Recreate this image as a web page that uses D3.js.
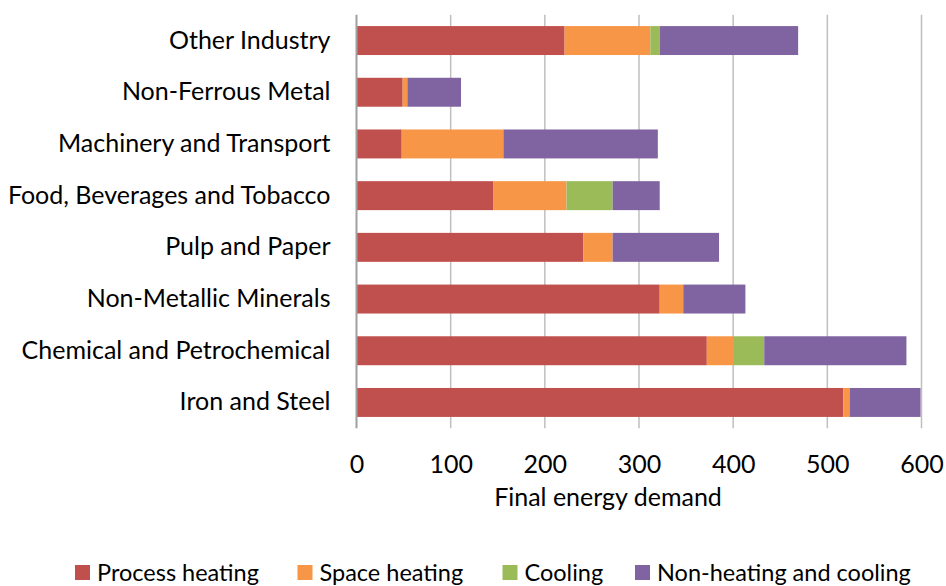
<!DOCTYPE html>
<html>
<head>
<meta charset="utf-8">
<script src="https://cdn.jsdelivr.net/npm/d3@7"></script>
<style>
  html, body { margin: 0; padding: 0; background: #fff; }
  svg { display: block; }
  text { font-family: Lato, "Open Sans", sans-serif; fill: #000; }
</style>
</head>
<body>
<svg id="chart" width="946" height="586"></svg>
<script>
const categories = ["Other Industry", "Non-Ferrous Metal", "Machinery and Transport",
  "Food, Beverages and Tobacco", "Pulp and Paper", "Non-Metallic Minerals",
  "Chemical and Petrochemical", "Iron and Steel"];
const seriesNames = ["Process heating", "Space heating", "Cooling", "Non-heating and cooling"];
const processHeating = [221, 49, 48, 145, 241, 322, 372, 517];
const spaceHeating   = [91, 5, 108, 78, 31, 25, 28, 7];
const cooling        = [10, 0, 0, 49, 0, 0, 33, 0];
const nonHeating     = [147, 57, 164, 50, 113, 66, 151, 75];
const xTicks = [0, 100, 200, 300, 400, 500, 600];
const colors = ["#C0504D", "#F79646", "#9BBB59", "#8064A2"];
const xTitle = "Final energy demand";

const rows = categories.map((c, i) => ({
  cat: c,
  "Process heating": processHeating[i],
  "Space heating": spaceHeating[i],
  "Cooling": cooling[i],
  "Non-heating and cooling": nonHeating[i]
}));

const svg = d3.select("#chart");
const pLeft = 356.5, pRight = 921.5, pTop = 14.7, pBottom = 428.3;
const FS = 25;
const LFS = 23.5;

const x = d3.scaleLinear().domain([0, 600]).range([pLeft, pRight]);
const y = d3.scaleBand().domain(categories).range([pTop, pBottom]).paddingInner(0.44).paddingOuter(0.22);

// gridlines
svg.append("g").selectAll("line").data(xTicks.filter(d => d > 0)).join("line")
  .attr("x1", d => x(d)).attr("x2", d => x(d))
  .attr("y1", pTop).attr("y2", pBottom)
  .attr("stroke", "#bfbfbf").attr("stroke-width", 1.5);

// stacked bars
const stack = d3.stack().keys(seriesNames)(rows);
svg.append("g").selectAll("g").data(stack).join("g")
  .attr("fill", (d, i) => colors[i])
  .selectAll("rect").data(d => d).join("rect")
  .attr("x", d => x(d[0]))
  .attr("y", d => y(d.data.cat))
  .attr("width", d => Math.max(0, x(d[1]) - x(d[0])))
  .attr("height", y.bandwidth());

// vertical axis line
svg.append("line")
  .attr("x1", pLeft).attr("x2", pLeft).attr("y1", pTop).attr("y2", pBottom)
  .attr("stroke", "#a0a0a0").attr("stroke-width", 2);

// category labels
const yAxis = d3.axisLeft(y).tickSize(0).tickPadding(26);
const ya = svg.append("g").attr("transform", `translate(${pLeft},0)`).call(yAxis);
ya.select(".domain").remove();
ya.selectAll("text").attr("font-size", FS).style("font-family", "Lato, 'Open Sans', sans-serif").attr("fill", "#000");

// x tick labels
const xAxis = d3.axisBottom(x).tickValues(xTicks).tickSize(0).tickPadding(0);
const xa = svg.append("g").attr("transform", `translate(0,455)`).call(xAxis);
xa.select(".domain").remove();
xa.selectAll("text").attr("font-size", FS).attr("dy", "0.71em").style("font-family", "Lato, 'Open Sans', sans-serif").attr("fill", "#000");

// x title
svg.append("text").attr("x", 608).attr("y", 506).attr("text-anchor", "middle")
  .attr("font-size", FS).text(xTitle);

// legend
const legendX = [75, 297.5, 502.5, 635];
const lg = svg.append("g").selectAll("g").data(seriesNames).join("g")
  .attr("transform", (d, i) => `translate(${legendX[i]},565)`);
lg.append("rect").attr("width", 15).attr("height", 15).attr("fill", (d, i) => colors[i]);
lg.append("text").attr("x", 22).attr("y", 15.5).attr("font-size", LFS).text(d => d);
</script>
</body>
</html>
